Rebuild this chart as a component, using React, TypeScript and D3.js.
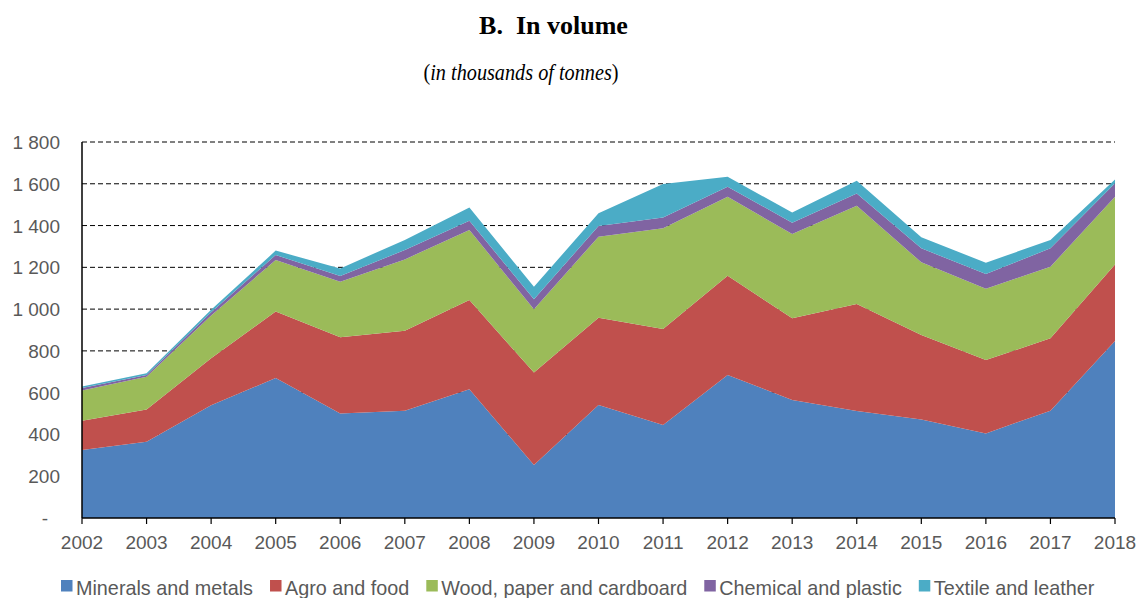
import React, { useRef, useEffect } from "react";
import * as d3 from "d3";

const years = [2002, 2003, 2004, 2005, 2006, 2007, 2008, 2009, 2010, 2011, 2012, 2013, 2014, 2015, 2016, 2017, 2018];
const categories = ["Minerals and metals", "Agro and food", "Wood, paper and cardboard", "Chemical and plastic", "Textile and leather"];
const colors = ["#4F81BD", "#C0504D", "#9BBB59", "#8064A2", "#4BACC6"];

// thousands of tonnes
const minerals = [325, 365, 540, 670, 500, 514, 616, 254, 541, 445, 685, 565, 512, 472, 405, 514, 847];
const agro = [140, 155, 225, 318, 365, 383, 428, 442, 418, 460, 475, 391, 512, 404, 351, 346, 367];
const wood = [145, 156, 205, 247, 266, 341, 335, 303, 388, 482, 378, 403, 471, 348, 342, 343, 324];
const chemical = [12, 8, 15, 24, 27, 45, 44, 48, 51, 52, 48, 55, 59, 67, 70, 88, 64];
const textile = [7, 9, 12, 21, 37, 48, 63, 60, 61, 160, 48, 48, 61, 53, 54, 40, 19];

const yTicks = [0, 200, 400, 600, 800, 1000, 1200, 1400, 1600, 1800];

const App = () => {
  const svgRef = useRef(null);

  useEffect(() => {
    const svg = d3.select(svgRef.current);
    svg.selectAll("*").remove();

    const series = [minerals, agro, wood, chemical, textile];
    const rows = years.map((y, i) => {
      const obj: any = { year: y };
      categories.forEach((c, k) => { obj[c] = series[k][i]; });
      return obj;
    });

    const x = d3.scaleLinear().domain([2002, 2018]).range([82, 1115]);
    const y = d3.scaleLinear().domain([0, 1800]).range([518, 142]);

    /*** Titles ***/
    svg.append("text")
      .attr("x", 553.5).attr("y", 34)
      .attr("text-anchor", "middle")
      .style("font-family", "'Liberation Serif', 'Times New Roman', serif")
      .style("font-weight", "bold")
      .style("font-size", "26px")
      .attr("xml:space", "preserve")
      .text("B.  In volume");

    // subtitle looks tall but narrow in the original, squeeze it a bit
    const sub = svg.append("text")
      .attr("x", 0).attr("y", 0)
      .attr("transform", "translate(521,80) scale(0.88,1)")
      .attr("text-anchor", "middle")
      .style("font-family", "'Liberation Serif', 'Times New Roman', serif")
      .style("font-size", "23px");
    sub.append("tspan").text("(");
    sub.append("tspan").style("font-style", "italic").text("in thousands of tonnes");
    sub.append("tspan").text(")");

    /*** Gridlines ***/
    svg.append("g").selectAll("line")
      .data(yTicks.filter(d => d > 0))
      .enter().append("line")
      .attr("x1", x(2002)).attr("x2", x(2018))
      .attr("y1", d => y(d)).attr("y2", d => y(d))
      .attr("stroke", "#000")
      .attr("stroke-width", 1)
      .attr("stroke-dasharray", "5,3");

    /*** Stacked areas ***/
    const stack = d3.stack().keys(categories)(rows);
    const area = d3.area()
      .x((d: any) => x(d.data.year))
      .y0((d: any) => y(d[0]))
      .y1((d: any) => y(d[1]));

    svg.append("g").selectAll("path")
      .data(stack)
      .enter().append("path")
      .attr("fill", (d, i) => colors[i])
      .attr("d", area as any);

    /*** Axes ***/
    svg.append("line")
      .attr("x1", x(2002)).attr("x2", x(2002))
      .attr("y1", y(1800)).attr("y2", y(0))
      .attr("stroke", "#000").attr("stroke-width", 1.5);

    svg.append("line")
      .attr("x1", x(2002)).attr("x2", x(2018))
      .attr("y1", y(0)).attr("y2", y(0))
      .attr("stroke", "#000").attr("stroke-width", 1.5);

    svg.append("g").selectAll("line")
      .data(years)
      .enter().append("line")
      .attr("x1", d => x(d)).attr("x2", d => x(d))
      .attr("y1", y(0)).attr("y2", y(0) + 6)
      .attr("stroke", "#000").attr("stroke-width", 1.2);

    const labelFont = "'Liberation Sans', Arial, sans-serif";

    svg.append("g").selectAll("text")
      .data(years)
      .enter().append("text")
      .attr("x", d => x(d)).attr("y", 549)
      .attr("text-anchor", "middle")
      .style("font-family", labelFont)
      .style("font-size", "19px")
      .attr("fill", "#595959")
      .text(d => d);

    svg.append("g").selectAll("text")
      .data(yTicks)
      .enter().append("text")
      .attr("x", d => d === 0 ? 48 : 60)
      .attr("y", d => y(d) + 7)
      .attr("text-anchor", "end")
      .style("font-family", labelFont)
      .style("font-size", "19px")
      .attr("fill", "#595959")
      .text(d => d === 0 ? "-" : d3.format(",")(d).replace(",", " "));

    /*** Legend ***/
    const legend = svg.append("g");
    let lx = 61;
    categories.forEach((c, i) => {
      legend.append("rect")
        .attr("x", lx).attr("y", 580)
        .attr("width", 11.5).attr("height", 11.5)
        .attr("fill", colors[i]);
      const t = legend.append("text")
        .attr("x", lx + 15).attr("y", 595)
        .style("font-family", labelFont)
        .style("font-size", "19.8px")
        .attr("fill", "#595959")
        .text(c);
      const w = (t.node() as SVGTextElement).getComputedTextLength();
      lx = lx + 15 + w + 17;
    });
  }, []);

  return (
    <div style={{ position: "absolute", left: 0, top: 0 }}>
      <svg ref={svgRef} width={1139} height={598} style={{ display: "block", background: "#fff" }}></svg>
    </div>
  );
};

export default App;
